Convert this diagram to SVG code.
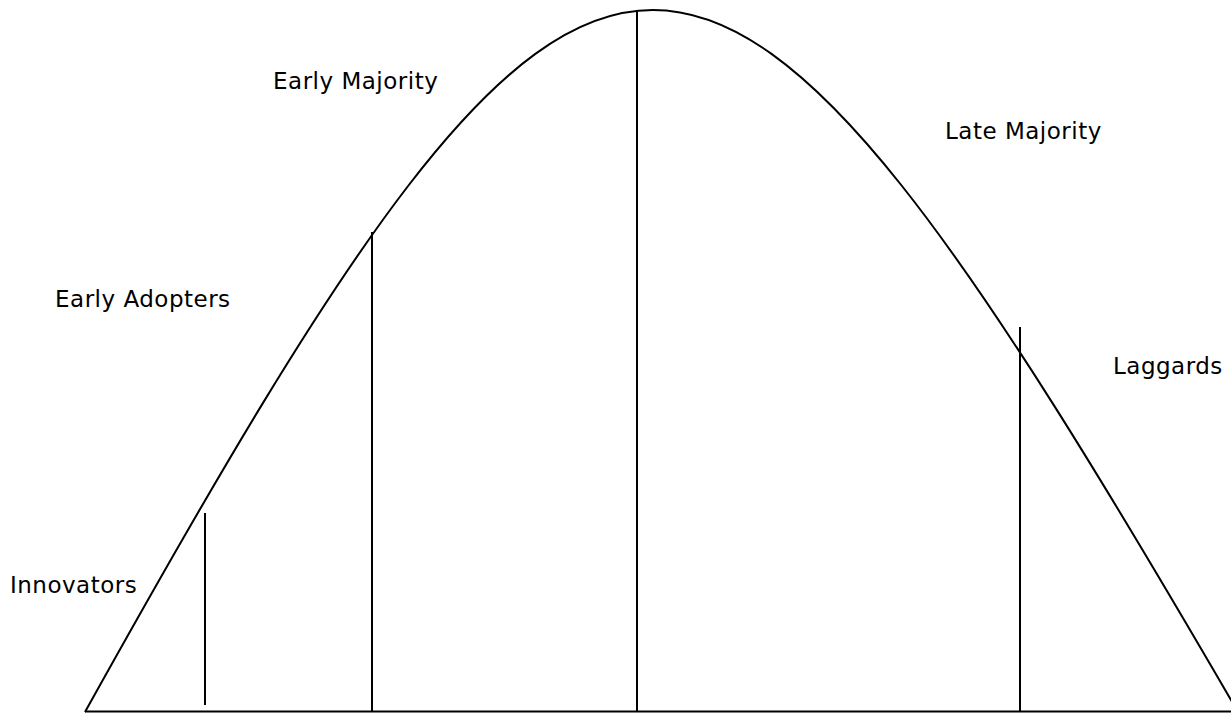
<svg xmlns="http://www.w3.org/2000/svg" width="1231" height="713" viewBox="0 0 1231 713">
<style>
.ln{fill:none;stroke:#000;stroke-width:2}
.lbl{font-family:"DejaVu Sans",Verdana,sans-serif;font-size:23px;letter-spacing:0.5px;fill:#000}
</style>
<rect width="1231" height="713" fill="#fff"/>
<g id="connectors">
<path id="curve" class="ln" d="M85 712 C606 -224 694 -224 1238 712"/>
<line id="baseline" class="ln" x1="85" y1="711.5" x2="1231" y2="711.5"/>
<line class="ln" x1="205" y1="513" x2="205" y2="705"/>
<line class="ln" x1="372" y1="232" x2="372" y2="712"/>
<line class="ln" x1="637" y1="10" x2="637" y2="712"/>
<line class="ln" x1="1020" y1="327" x2="1020" y2="712"/>
</g>
<g id="innovators"><text class="lbl" x="10" y="593">Innovators</text></g>
<g id="early-adopters"><text class="lbl" x="55" y="307">Early Adopters</text></g>
<g id="early-majority"><text class="lbl" x="273" y="89">Early Majority</text></g>
<g id="late-majority"><text class="lbl" x="945" y="139">Late Majority</text></g>
<g id="laggards"><text class="lbl" x="1113" y="374">Laggards</text></g>
</svg>
